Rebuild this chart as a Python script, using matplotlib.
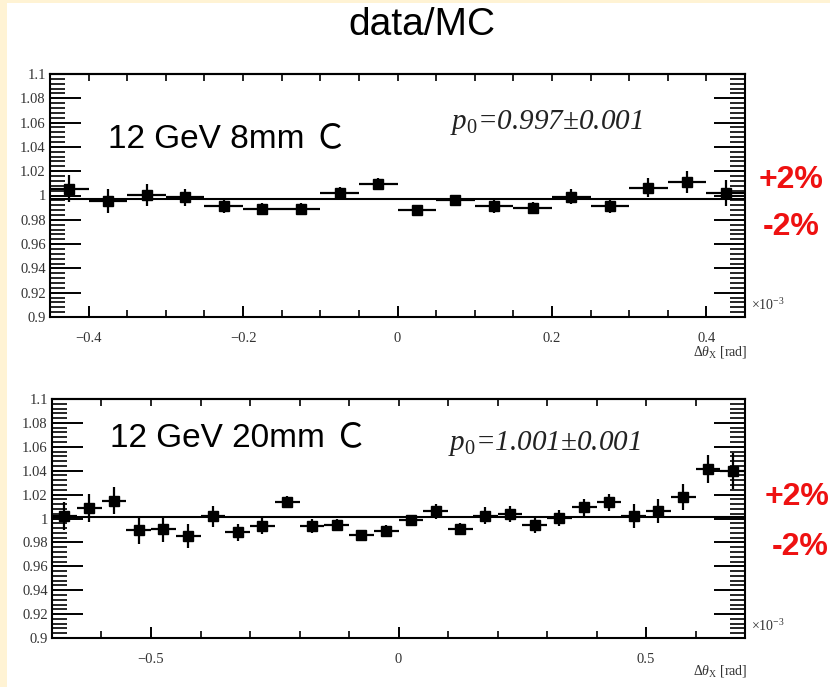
import matplotlib
matplotlib.use('Agg')
import matplotlib.pyplot as plt
from matplotlib.patches import Rectangle
from matplotlib.ticker import MultipleLocator, FuncFormatter

plt.rcParams['mathtext.fontset'] = 'custom'
plt.rcParams['mathtext.rm'] = 'Liberation Serif'
plt.rcParams['mathtext.it'] = 'Liberation Serif:italic'

# 8 mm target: 18 bins of 0.05 mrad
x_8mm = [-0.425, -0.375, -0.325, -0.275, -0.225, -0.175, -0.125, -0.075, -0.025,
         0.025, 0.075, 0.125, 0.175, 0.225, 0.275, 0.325, 0.375, 0.425]
ratio_8mm = [1.0055, 0.9954, 1.0004, 0.9987, 0.9916, 0.9890, 0.9890, 1.0020, 1.0093,
             0.9880, 0.9966, 0.9916, 0.9900, 0.9990, 0.9916, 1.0064, 1.0114, 1.0020]
err_8mm = [0.011, 0.010, 0.009, 0.007, 0.006, 0.005, 0.005, 0.005, 0.005,
           0.004, 0.004, 0.006, 0.005, 0.006, 0.006, 0.008, 0.009, 0.011]
p0_8mm, dp0_8mm = 0.997, 0.001

# 20 mm target: 28 bins of 0.05 mrad
x_20mm = [-0.675, -0.625, -0.575, -0.525, -0.475, -0.425, -0.375, -0.325, -0.275, -0.225,
          -0.175, -0.125, -0.075, -0.025, 0.025, 0.075, 0.125, 0.175, 0.225, 0.275,
          0.325, 0.375, 0.425, 0.475, 0.525, 0.575, 0.625, 0.675]
ratio_20mm = [1.0020, 1.0088, 1.0150, 0.9900, 0.9910, 0.9856, 1.0018, 0.9884, 0.9940, 1.0135,
              0.9940, 0.9948, 0.9865, 0.9893, 0.9985, 1.0060, 0.9915, 1.0024, 1.0038, 0.9948,
              1.0004, 1.0093, 1.0135, 1.0024, 1.0060, 1.0180, 1.0414, 1.0395]
err_20mm = [0.012, 0.012, 0.011, 0.011, 0.011, 0.010, 0.009, 0.007, 0.007, 0.005,
            0.006, 0.005, 0.004, 0.005, 0.004, 0.006, 0.005, 0.007, 0.007, 0.007,
            0.007, 0.007, 0.007, 0.010, 0.010, 0.011, 0.012, 0.015]
p0_20mm, dp0_20mm = 1.001, 0.001

bin_half = 0.025
serif = 'Liberation Serif'
tick_col = '#333333'


def minus_fmt(v, pos):
    return ('%g' % round(v, 6)).replace('-', '\u2212')


def draw_ratio(ax, x, y, yerr, p0, xlim, x_major, x_minor, xlabel_y):
    ax.errorbar(x, y, xerr=bin_half, yerr=yerr, fmt='s', color='black',
                ms=7, elinewidth=1.6, capsize=0, zorder=3)
    ax.axhline(p0, color='black', lw=1.5, zorder=2)
    ax.set_xlim(*xlim)
    ax.set_ylim(0.9, 1.1)

    ax.yaxis.set_major_locator(MultipleLocator(0.02))
    ax.yaxis.set_minor_locator(MultipleLocator(0.004))
    ax.xaxis.set_major_locator(MultipleLocator(x_major))
    ax.xaxis.set_minor_locator(MultipleLocator(x_minor))
    ax.yaxis.set_major_formatter(FuncFormatter(minus_fmt))
    ax.xaxis.set_major_formatter(FuncFormatter(minus_fmt))

    ax.tick_params(axis='y', which='major', direction='in', length=22, width=1.4,
                   left=True, right=True, labelsize=10.5, labelcolor=tick_col, pad=3)
    ax.tick_params(axis='y', which='minor', direction='in', length=11, width=1.2,
                   left=True, right=True)
    ax.tick_params(axis='x', which='major', direction='in', length=8, width=1.4,
                   labelsize=10.5, labelcolor=tick_col, pad=11)
    ax.tick_params(axis='x', which='minor', direction='in', length=5, width=1.2)
    for lab in ax.get_xticklabels() + ax.get_yticklabels():
        lab.set_fontfamily(serif)

    # short ticks along the top edge
    top = ax.secondary_xaxis('top')
    top.xaxis.set_major_locator(MultipleLocator(x_minor))
    top.tick_params(axis='x', which='major', direction='in', length=5, width=1.2,
                    labeltop=False)
    top.tick_params(axis='x', which='minor', top=False)

    for sp in ax.spines.values():
        sp.set_linewidth(1.5)
    for sp in top.spines.values():
        sp.set_linewidth(1.5)

    ax.text(1.008, 0.05, r'$\times10^{-3}$', transform=ax.transAxes, fontsize=10,
            family=serif, color=tick_col, ha='left', va='center')
    ax.text(1.003, xlabel_y, r'$\Delta\theta_{\mathrm{X}}$ [rad]', transform=ax.transAxes,
            fontsize=10, family=serif, color=tick_col, ha='right', va='top')


fig = plt.figure(figsize=(8.3, 6.87), dpi=100)
fig.patch.set_facecolor('#fff3d4')
panel = Rectangle((7 / 830, 0), 1, 1 - 3 / 687, transform=fig.transFigure,
                  facecolor='white', edgecolor='none', zorder=-10)
fig.add_artist(panel)

ax1 = fig.add_axes([50 / 830, 1 - 317 / 687, 695 / 830, 243 / 687])
draw_ratio(ax1, x_8mm, ratio_8mm, err_8mm, p0_8mm, (-0.45, 0.45), 0.2, 0.05, -0.112)

ax2 = fig.add_axes([52 / 830, 1 - 638 / 687, 693 / 830, 239 / 687])
draw_ratio(ax2, x_20mm, ratio_20mm, err_20mm, p0_20mm, (-0.7, 0.7), 0.5, 0.1, -0.105)

label_font = ['Liberation Sans', 'Noto Sans CJK SC']
fig.text(422 / 830, 1 - 25 / 687, 'data/MC', fontsize=28, family=label_font,
         ha='center', va='center')

ax1.text(0.083, 0.735, '12 GeV 8mm \uff23', transform=ax1.transAxes, fontsize=24,
         family=label_font, ha='left', va='center')
ax2.text(0.083, 0.84, '12 GeV 20mm \uff23', transform=ax2.transAxes, fontsize=24,
         family=label_font, ha='left', va='center')

p_fmt = r'$\mathit{p_{0}}$=%.3f$\pm$%.3f'
ax1.text(0.575, 0.80, p_fmt % (p0_8mm, dp0_8mm), transform=ax1.transAxes, fontsize=21,
         family=serif, style='italic', color='#222222', ha='left', va='center')
ax2.text(0.572, 0.815, p_fmt % (p0_20mm, dp0_20mm), transform=ax2.transAxes, fontsize=21,
         family=serif, style='italic', color='#222222', ha='left', va='center')

red = '#ee1111'
for txt, xp, yp in [('+2%', 791, 180), ('-2%', 791, 227), ('+2%', 797, 497), ('-2%', 800, 547)]:
    fig.text(xp / 830, 1 - yp / 687, txt, fontsize=23, family='Liberation Sans',
             weight='bold', color=red, ha='center', va='center')

fig.savefig('out.png', dpi=100, facecolor=fig.get_facecolor())
